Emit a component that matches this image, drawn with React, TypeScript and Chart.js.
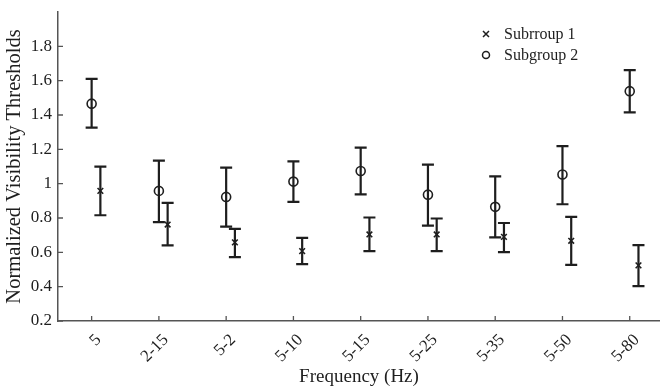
import React, { useEffect, useRef } from "react";
import { Chart, registerables } from "chart.js";

Chart.register(...registerables);

const categories = ["5", "2-15", "5-2", "5-10", "5-15", "5-25", "5-35", "5-50", "5-80"];
const yTickValues = [0.2, 0.4, 0.6, 0.8, 1.0, 1.2, 1.4, 1.6, 1.8, 2.0];
const yTickLabels = ["0.2", "0.4", "0.6", "0.8", "1", "1.2", "1.4", "1.6", "1.8", ""];

const group1Label = "Subrroup 1";
const group1Mean = [0.958, 0.762, 0.658, 0.607, 0.704, 0.704, 0.69, 0.667, 0.524];
const group1Upper = [1.099, 0.888, 0.737, 0.684, 0.803, 0.797, 0.771, 0.806, 0.642];
const group1Lower = [0.816, 0.64, 0.572, 0.531, 0.607, 0.607, 0.601, 0.527, 0.403];

const group2Label = "Subgroup 2";
const group2Mean = [1.466, 0.958, 0.923, 1.012, 1.074, 0.936, 0.865, 1.053, 1.539];
const group2Upper = [1.611, 1.134, 1.093, 1.13, 1.21, 1.111, 1.043, 1.219, 1.661];
const group2Lower = [1.326, 0.776, 0.75, 0.894, 0.938, 0.756, 0.687, 0.88, 1.415];

const group1Shift = 0.13;
const INK = "#1e1e1e";
const AXIS = "#555";
const FONT = "'Liberation Serif', 'DejaVu Serif', serif";

const errorBarPlugin = {
  id: "errorBars",
  afterDatasetsDraw(chart: any) {
    const { ctx } = chart;
    const xs = chart.scales.x;
    const ys = chart.scales.y;
    const sets = [
      { shift: group1Shift, up: group1Upper, lo: group1Lower },
      { shift: 0, up: group2Upper, lo: group2Lower },
    ];
    ctx.save();
    ctx.strokeStyle = INK;
    ctx.lineWidth = 2.2;
    sets.forEach((s) => {
      s.up.forEach((u, i) => {
        const x = xs.getPixelForValue(i + s.shift);
        const yu = ys.getPixelForValue(u);
        const yl = ys.getPixelForValue(s.lo[i]);
        ctx.beginPath();
        ctx.moveTo(x, yu);
        ctx.lineTo(x, yl);
        ctx.moveTo(x - 6, yu);
        ctx.lineTo(x + 6, yu);
        ctx.moveTo(x - 6, yl);
        ctx.lineTo(x + 6, yl);
        ctx.stroke();
      });
    });
    ctx.restore();
  },
};

const axisTicksPlugin = {
  id: "innerTicks",
  afterDraw(chart: any) {
    const { ctx, chartArea } = chart;
    const xs = chart.scales.x;
    const ys = chart.scales.y;
    ctx.save();
    ctx.strokeStyle = AXIS;
    ctx.lineWidth = 1.3;
    ctx.beginPath();
    categories.forEach((_, i) => {
      const x = xs.getPixelForValue(i);
      ctx.moveTo(x, chartArea.bottom);
      ctx.lineTo(x, chartArea.bottom - 5);
    });
    yTickValues.slice(0, 9).forEach((v) => {
      const y = ys.getPixelForValue(v);
      ctx.moveTo(chartArea.left, y);
      ctx.lineTo(chartArea.left + 5, y);
    });
    ctx.stroke();

    // legend
    const lx = 486;
    const rows = [
      { y: 34, label: group1Label, style: "x" },
      { y: 55, label: group2Label, style: "o" },
    ];
    ctx.strokeStyle = INK;
    ctx.fillStyle = INK;
    ctx.lineWidth = 1.5;
    ctx.font = `16px ${FONT}`;
    ctx.textBaseline = "middle";
    ctx.textAlign = "left";
    rows.forEach((r) => {
      ctx.beginPath();
      if (r.style === "x") {
        ctx.moveTo(lx - 3, r.y - 3);
        ctx.lineTo(lx + 3, r.y + 3);
        ctx.moveTo(lx - 3, r.y + 3);
        ctx.lineTo(lx + 3, r.y - 3);
      } else {
        ctx.arc(lx, r.y, 3.5, 0, Math.PI * 2);
      }
      ctx.stroke();
      ctx.fillText(r.label, 504, r.y + 1);
    });
    ctx.restore();
  },
};

export default function App() {
  const ref = useRef<HTMLCanvasElement | null>(null);

  useEffect(() => {
    if (!ref.current) return;
    const chart = new Chart(ref.current, {
      type: "scatter",
      data: {
        datasets: [
          {
            label: group1Label,
            data: group1Mean.map((v, i) => ({ x: i + group1Shift, y: v })),
            pointStyle: "crossRot",
            pointRadius: 4,
            borderColor: INK,
            backgroundColor: "transparent",
            pointBorderWidth: 1.6,
          },
          {
            label: group2Label,
            data: group2Mean.map((v, i) => ({ x: i, y: v })),
            pointStyle: "circle",
            pointRadius: 4.5,
            borderColor: INK,
            backgroundColor: "transparent",
            pointBorderWidth: 1.6,
          },
        ],
      },
      options: {
        responsive: false,
        animation: false,
        layout: { autoPadding: false, padding: { top: 12, right: 0, left: 0, bottom: 0 } },
        plugins: {
          legend: { display: false },
          tooltip: { enabled: false },
        },
        scales: {
          x: {
            type: "linear",
            min: -0.5,
            max: 8.45,
            afterBuildTicks: (scale: any) => {
              scale.ticks = categories.map((_, i) => ({ value: i }));
            },
            afterFit: (scale: any) => {
              scale.height = 67;
              scale.paddingLeft = 0;
              scale.paddingRight = 0;
            },
            grid: { display: false, drawTicks: false },
            border: { display: true, color: AXIS, width: 1.5 },
            ticks: {
              autoSkip: false,
              minRotation: 45,
              maxRotation: 45,
              padding: 9,
              labelOffset: 7,
              color: INK,
              font: { family: FONT, size: 17 },
              callback: (v: any) => categories[Math.round(Number(v))] ?? "",
            },
            title: {
              display: true,
              text: "Frequency (Hz)",
              color: INK,
              font: { family: FONT, size: 19 },
              padding: { top: 0, bottom: 0 },
            },
          },
          y: {
            type: "linear",
            min: 0.2,
            max: 2.0,
            afterBuildTicks: (scale: any) => {
              scale.ticks = yTickValues.map((v) => ({ value: v }));
            },
            afterFit: (scale: any) => {
              scale.width = 58;
              scale.paddingTop = 0;
              scale.paddingBottom = 0;
            },
            grid: { display: false, drawTicks: false },
            border: { display: true, color: AXIS, width: 1.5 },
            ticks: {
              padding: 6,
              color: INK,
              font: { family: FONT, size: 17 },
              callback: (v: any) => {
                const idx = yTickValues.findIndex((t) => Math.abs(t - Number(v)) < 1e-6);
                return idx >= 0 ? yTickLabels[idx] : "";
              },
            },
            title: {
              display: true,
              text: "Normalized Visibility Thresholds",
              color: INK,
              font: { family: FONT, size: 20.5 },
              padding: { top: 2, bottom: 0 },
            },
          },
        },
      },
      plugins: [errorBarPlugin, axisTicksPlugin],
    });
    return () => chart.destroy();
  }, []);

  return (
    <div style={{ position: "absolute", left: 0, top: 0, width: 660, height: 388, background: "#fff" }}>
      <canvas ref={ref} width={660} height={388} style={{ display: "block" }} />
    </div>
  );
}
